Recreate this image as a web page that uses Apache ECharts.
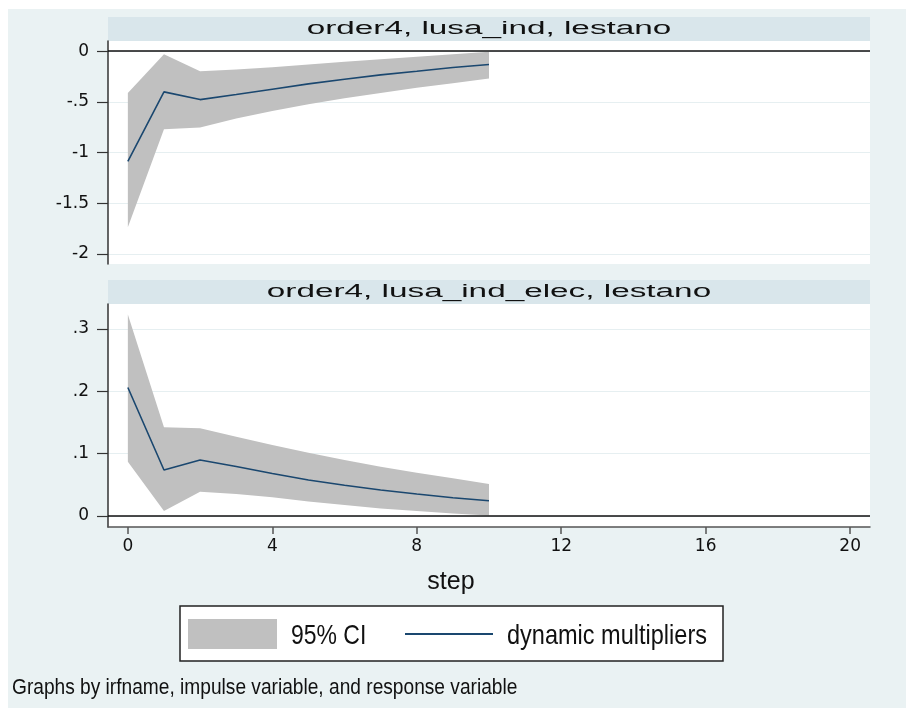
<!DOCTYPE html>
<html>
<head>
<meta charset="utf-8">
<title>irf dynamic multipliers</title>
<script src="https://cdn.jsdelivr.net/npm/echarts@6/dist/echarts.min.js"></script>
<style>
html,body{margin:0;padding:0;background:#fff}
#main{width:906px;height:708px}
</style>
</head>
<body>
<div id="main"></div>
<script>
// steps of the impulse response
var steps=[0,1,2,3,4,5,6,7,8,9,10];
// order4, lusa_ind, lestano
var irfInd=[-1.087,-0.402,-0.478,-0.428,-0.376,-0.323,-0.277,-0.234,-0.198,-0.161,-0.132];
var loInd=[-1.737,-0.771,-0.754,-0.665,-0.590,-0.524,-0.464,-0.412,-0.362,-0.316,-0.270];
var hiInd=[-0.412,-0.030,-0.198,-0.181,-0.158,-0.132,-0.105,-0.079,-0.056,-0.030,-0.007];
// order4, lusa_ind_elec, lestano
var irfElec=[0.206,0.0735,0.0895,0.079,0.068,0.0574,0.0489,0.0413,0.0349,0.029,0.0241];
var loElec=[0.0868,0.0075,0.0386,0.0349,0.0296,0.0231,0.0172,0.0119,0.0075,0.0038,0.0006];
var hiElec=[0.323,0.142,0.1405,0.127,0.1137,0.1013,0.0895,0.0788,0.0692,0.0601,0.051];
// ticks
var xTicks=[0,4,8,12,16,20];
var yTicksInd=[-2,-1.5,-1,-0.5,0];
var yTicksElec=[0,0.1,0.2,0.3];
var panelTitles=["order4, lusa_ind, lestano","order4, lusa_ind_elec, lestano"];
var legendNames=["95% CI","dynamic multipliers"];
var note="Graphs by irfname, impulse variable, and response variable";

var bandColor="#c0c0c0", lineColor="#1a476f";

function pairs(arr){
    return steps.map(function(s,i){return [s,arr[i]];});
}
// stata style labels: .5 instead of 0.5
function fmt(v){
    return String(v).replace("0.",".");
}

function yAxisOf(gi,min,max,ticks){
    return {
        type:"value",gridIndex:gi,min:min,max:max,
        axisLine:{show:true,onZero:false,lineStyle:{color:"#333",width:1.5}},
        axisTick:{show:true,length:11,customValues:ticks,lineStyle:{color:"#333",width:1.2}},
        axisLabel:{customValues:ticks,margin:19,fontFamily:"DejaVu Sans",fontSize:17,color:"#111",formatter:fmt},
        splitLine:{show:true,lineStyle:{color:"#e6eff1",width:1}}
    };
}

// confidence band: one polygon, upper edge then lower edge back
function bandSeries(gi,lo,hi){
    return {
        name:legendNames[0],type:"custom",xAxisIndex:gi,yAxisIndex:gi,silent:true,
        data:steps.map(function(s,i){return [s,lo[i],hi[i]];}),
        encode:{x:0,y:[1,2]},
        renderItem:function(params,api){
            if(params.dataIndex!==0) return;
            var pts=[];
            for(var i=0;i<steps.length;i++) pts.push(api.coord([steps[i],hi[i]]));
            for(var j=steps.length-1;j>=0;j--) pts.push(api.coord([steps[j],lo[j]]));
            return {type:"polygon",shape:{points:pts},style:{fill:bandColor}};
        }
    };
}

function panel(gi,lo,hi,irf){
    return [
        bandSeries(gi,lo,hi),
        {name:legendNames[1],type:"line",xAxisIndex:gi,yAxisIndex:gi,data:pairs(irf),symbol:"none",
            lineStyle:{color:lineColor,width:1.6},
            markLine:{silent:true,symbol:["none","none"],label:{show:false},
                lineStyle:{color:"#111",width:1.6,type:"solid"},data:[{yAxis:0}]}}
    ];
}

var chart=echarts.init(document.getElementById("main"));
var option={
    animation:false,
    backgroundColor:"#fff",
    grid:[
        {left:108,top:41,width:762,height:223,show:true,backgroundColor:"#fff",borderWidth:0},
        {left:108,top:304,width:762,height:223,show:true,backgroundColor:"#fff",borderWidth:0}
    ],
    xAxis:[
        {type:"value",gridIndex:0,min:-0.55,max:20.55,show:false},
        {type:"value",gridIndex:1,min:-0.55,max:20.55,
            axisLine:{show:true,onZero:false,lineStyle:{color:"#555",width:1.5}},
            axisTick:{show:true,length:7,customValues:xTicks,lineStyle:{color:"#555",width:1.5}},
            axisLabel:{customValues:xTicks,margin:11,fontFamily:"DejaVu Sans",fontSize:17,color:"#111"},
            splitLine:{show:false},
            name:"step",nameLocation:"middle",nameGap:43,
            nameTextStyle:{fontFamily:"Liberation Sans",fontSize:25,color:"#111",padding:[0,76,0,0]}}
    ],
    yAxis:[
        yAxisOf(0,-2.1,0.1,yTicksInd),
        yAxisOf(1,-0.018,0.34,yTicksElec)
    ],
    series:panel(0,loInd,hiInd,irfInd).concat(panel(1,loElec,hiElec,irfElec)),
    graphic:[
        {type:"rect",z:-100,shape:{x:8,y:9,width:898,height:699},style:{fill:"#eaf2f3"}},
        {type:"rect",shape:{x:108,y:17,width:762,height:24},style:{fill:"#d9e6eb"}},
        {type:"rect",shape:{x:108,y:280,width:762,height:24},style:{fill:"#d9e6eb"}},
        {type:"text",x:489,y:29,scaleX:1.85,style:{text:panelTitles[0],font:"18px 'Liberation Sans'",fill:"#111",align:"center",verticalAlign:"middle"}},
        {type:"text",x:489,y:292,scaleX:1.85,style:{text:panelTitles[1],font:"18px 'Liberation Sans'",fill:"#111",align:"center",verticalAlign:"middle"}},
        // legend
        {type:"rect",shape:{x:180,y:606,width:543,height:55},style:{fill:"#fff",stroke:"#222",lineWidth:1.5}},
        {type:"rect",shape:{x:188,y:619,width:89,height:30},style:{fill:bandColor}},
        {type:"text",x:291,y:636,scaleX:0.82,style:{text:legendNames[0],font:"28px 'Liberation Sans'",fill:"#111",align:"left",verticalAlign:"middle"}},
        {type:"line",shape:{x1:405,y1:634,x2:493,y2:634},style:{stroke:lineColor,lineWidth:2}},
        {type:"text",x:507,y:636,scaleX:0.84,style:{text:legendNames[1],font:"28px 'Liberation Sans'",fill:"#111",align:"left",verticalAlign:"middle"}},
        // note
        {type:"text",x:12,y:688,scaleX:0.87,style:{text:note,font:"22px 'Liberation Sans'",fill:"#111",align:"left",verticalAlign:"middle"}}
    ]
};
chart.setOption(option);
</script>
</body>
</html>
